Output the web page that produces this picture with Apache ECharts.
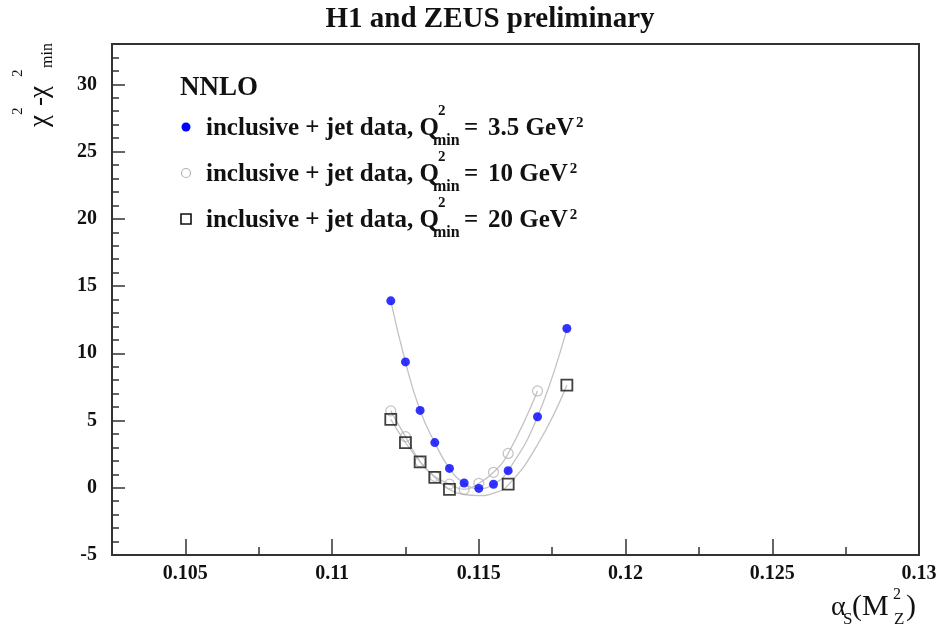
<!DOCTYPE html>
<html>
<head>
<meta charset="utf-8">
<script src="https://cdn.jsdelivr.net/npm/echarts@6/dist/echarts.min.js"></script>
<style>
  html, body { margin: 0; padding: 0; background: #fff; }
  #chart { width: 940px; height: 628px; }
</style>
</head>
<body>
<div id="chart"></div>
<script>
// alpha_s(M_Z^2) scan points
const alphaS = [0.112, 0.1125, 0.113, 0.1135, 0.114, 0.1145, 0.115, 0.1155, 0.116, 0.117, 0.118];
// Q2min = 3.5 GeV2
const chi2Q35 = [13.9, 9.36, 5.75, 3.36, 1.44, 0.35, -0.05, 0.26, 1.27, 5.28, 11.84];
// Q2min = 10 GeV2
const alphaSQ10 = [0.112, 0.1125, 0.113, 0.1135, 0.114, 0.1145, 0.115, 0.1155, 0.116, 0.117];
const chi2Q10 = [5.72, 3.8, 1.95, 0.85, 0.27, -0.12, 0.33, 1.15, 2.55, 7.2];
// Q2min = 20 GeV2
const alphaSQ20 = [0.112, 0.1125, 0.113, 0.1135, 0.114, 0.116, 0.118];
const chi2Q20 = [5.08, 3.36, 1.93, 0.77, -0.12, 0.27, 7.63];
// parabola drawn for Q2min = 20 GeV2 (sampled along the curve)
const fitAlphaQ20 = [0.112, 0.1125, 0.113, 0.1135, 0.114, 0.1145, 0.115, 0.1155, 0.116, 0.117, 0.118];
const fitChi2Q20 = [5.08, 3.36, 1.93, 0.77, -0.12, -0.5, -0.58, -0.4, 0.2, 3.2, 7.63];

// legend entries
const legendValues = ['3.5', '10', '20'];

// axis ticks
const xTicks = [0.105, 0.11, 0.115, 0.12, 0.125, 0.13];
const xMinorTicks = [0.1075, 0.1125, 0.1175, 0.1225, 0.1275];
const yTicks = [-5, 0, 5, 10, 15, 20, 25, 30];
const yMinorTicks = [];
for (let v = -5; v <= 33; v++) yMinorTicks.push(v);

const pair = (xs, ys) => xs.map((x, i) => [x, ys[i]]);

const SERIF = '"Liberation Serif", "Times New Roman", serif';
const AXIS = '#333';
const INK = '#111';

const measureCtx = document.createElement('canvas').getContext('2d');
function fontOf(size, bold) { return (bold ? 'bold ' : '') + size + 'px ' + SERIF; }
function widthOf(text, size, bold) { measureCtx.font = fontOf(size, bold); return measureCtx.measureText(text).width; }

// text placed by its baseline (vertical align 'middle' sits ~0.33em above it)
function txt(text, x, baseline, size, opts) {
  opts = opts || {};
  return {
    type: 'text',
    x: x, y: baseline - 0.33 * size,
    style: {
      text: text,
      font: fontOf(size, opts.bold),
      fill: opts.fill || INK,
      textAlign: opts.align || 'left',
      textVerticalAlign: 'middle'
    }
  };
}

const chart = echarts.init(document.getElementById('chart'), null, { renderer: 'canvas' });

const xRange = { min: 0.1025, max: 0.13 };
const yRange = { min: -5, max: 33 };
const curveStyle = { color: '#c2c2c2', width: 1.3 };

const graphics = [];
graphics.push(txt('H1 and ZEUS preliminary', 490, 29, 29, { bold: true, align: 'center' }));
graphics.push(txt('NNLO', 180, 97, 27, { bold: true }));

const markerY = [127, 173, 219];
legendValues.forEach((val, i) => {
  const cy = markerY[i];
  const base = cy + 10;
  if (i === 0) {
    graphics.push({ type: 'circle', shape: { cx: 186, cy: cy, r: 4.5 }, style: { fill: '#0000ff' } });
  } else if (i === 1) {
    graphics.push({ type: 'circle', shape: { cx: 186, cy: cy, r: 4.5 }, style: { fill: 'none', stroke: '#b4b4b4', lineWidth: 1.2 } });
  } else {
    graphics.push({ type: 'rect', shape: { x: 181, y: cy - 5, width: 10, height: 10 }, style: { fill: 'none', stroke: INK, lineWidth: 1.6 } });
  }
  graphics.push(txt('inclusive + jet data, Q', 206, base, 25, { bold: true }));
  graphics.push(txt('2', 438, base - 21, 15, { bold: true }));
  graphics.push(txt('min', 433, base + 9, 16, { bold: true }));
  graphics.push(txt('=', 464, base, 25, { bold: true }));
  const valText = val + ' GeV';
  graphics.push(txt(valText, 488, base, 25, { bold: true }));
  graphics.push(txt('2', 488 + widthOf(valText, 25, true) + 2, base - 9, 15, { bold: true }));
});

// y axis title, rotated to read bottom-to-top (local x runs up the page)
graphics.push({
  type: 'group',
  x: 49, y: 127,
  rotation: Math.PI / 2,
  children: [
    txt('\u03c7', 0, 0, 27),
    txt('2', 12, -26, 15),
    txt('-', 21, 0, 27),
    txt('\u03c7', 29, 0, 27),
    txt('2', 50, -26, 15),
    txt('min', 59, 4, 16)
  ]
});

// x axis title
graphics.push(txt('\u03b1', 831, 617, 28));
graphics.push(txt('S', 843, 625, 17));
graphics.push(txt('(M', 852, 617, 30));
graphics.push(txt('2', 893, 600, 16));
graphics.push(txt('Z', 894, 625, 17));
graphics.push(txt(')', 906, 617, 30));

const option = {
  animation: false,
  backgroundColor: '#fff',
  grid: {
    left: 112, right: 21, top: 44, bottom: 73,
    show: true, borderColor: AXIS, borderWidth: 2, backgroundColor: 'transparent'
  },
  xAxis: [
    {
      type: 'value', position: 'bottom', ...xRange,
      axisLine: { show: true, onZero: false, lineStyle: { color: AXIS, width: 2 } },
      axisTick: { show: true, inside: true, length: 16, customValues: xTicks, lineStyle: { color: AXIS, width: 1.5 } },
      axisLabel: {
        show: true, customValues: xTicks, margin: 9,
        fontFamily: SERIF, fontWeight: 'bold', fontSize: 20, color: INK,
        formatter: v => String(+v.toFixed(4))
      },
      splitLine: { show: false }
    },
    {
      type: 'value', position: 'bottom', ...xRange,
      axisLine: { show: false, onZero: false },
      axisTick: { show: true, inside: true, length: 8, customValues: xMinorTicks, lineStyle: { color: AXIS, width: 1.5 } },
      axisLabel: { show: false },
      splitLine: { show: false }
    }
  ],
  yAxis: [
    {
      type: 'value', position: 'left', ...yRange,
      axisLine: { show: true, onZero: false, lineStyle: { color: AXIS, width: 2 } },
      axisTick: { show: true, inside: true, length: 13, customValues: yTicks, lineStyle: { color: AXIS, width: 1.5 } },
      axisLabel: {
        show: true, customValues: yTicks, margin: 15,
        fontFamily: SERIF, fontWeight: 'bold', fontSize: 20, color: INK
      },
      splitLine: { show: false }
    },
    {
      type: 'value', position: 'left', ...yRange,
      axisLine: { show: false, onZero: false },
      axisTick: { show: true, inside: true, length: 7, customValues: yMinorTicks, lineStyle: { color: AXIS, width: 1.5 } },
      axisLabel: { show: false },
      splitLine: { show: false }
    }
  ],
  series: [
    {
      name: 'fit 3.5', type: 'line', smooth: 0.5, showSymbol: false, silent: true,
      data: pair(alphaS, chi2Q35), lineStyle: curveStyle, z: 1
    },
    {
      name: 'fit 10', type: 'line', smooth: 0.5, showSymbol: false, silent: true,
      data: pair(alphaSQ10, chi2Q10), lineStyle: curveStyle, z: 1
    },
    {
      name: 'fit 20', type: 'line', smooth: 0.5, showSymbol: false, silent: true,
      data: pair(fitAlphaQ20, fitChi2Q20), lineStyle: curveStyle, z: 1
    },
    {
      name: 'Q2min = 10 GeV2', type: 'scatter', symbol: 'circle', symbolSize: 10,
      data: pair(alphaSQ10, chi2Q10),
      itemStyle: { color: 'rgba(255,255,255,0)', borderColor: '#b4b4b4', borderWidth: 1.2 }, z: 3
    },
    {
      name: 'Q2min = 20 GeV2', type: 'scatter', symbol: 'rect', symbolSize: 11,
      data: pair(alphaSQ20, chi2Q20),
      itemStyle: { color: 'rgba(255,255,255,0)', borderColor: INK, borderWidth: 1.8 }, z: 4
    },
    {
      name: 'Q2min = 3.5 GeV2', type: 'scatter', symbol: 'circle', symbolSize: 9,
      data: pair(alphaS, chi2Q35),
      itemStyle: { color: '#0000ff' }, z: 5
    }
  ],
  graphic: graphics
};

chart.setOption(option);
</script>
</body>
</html>
